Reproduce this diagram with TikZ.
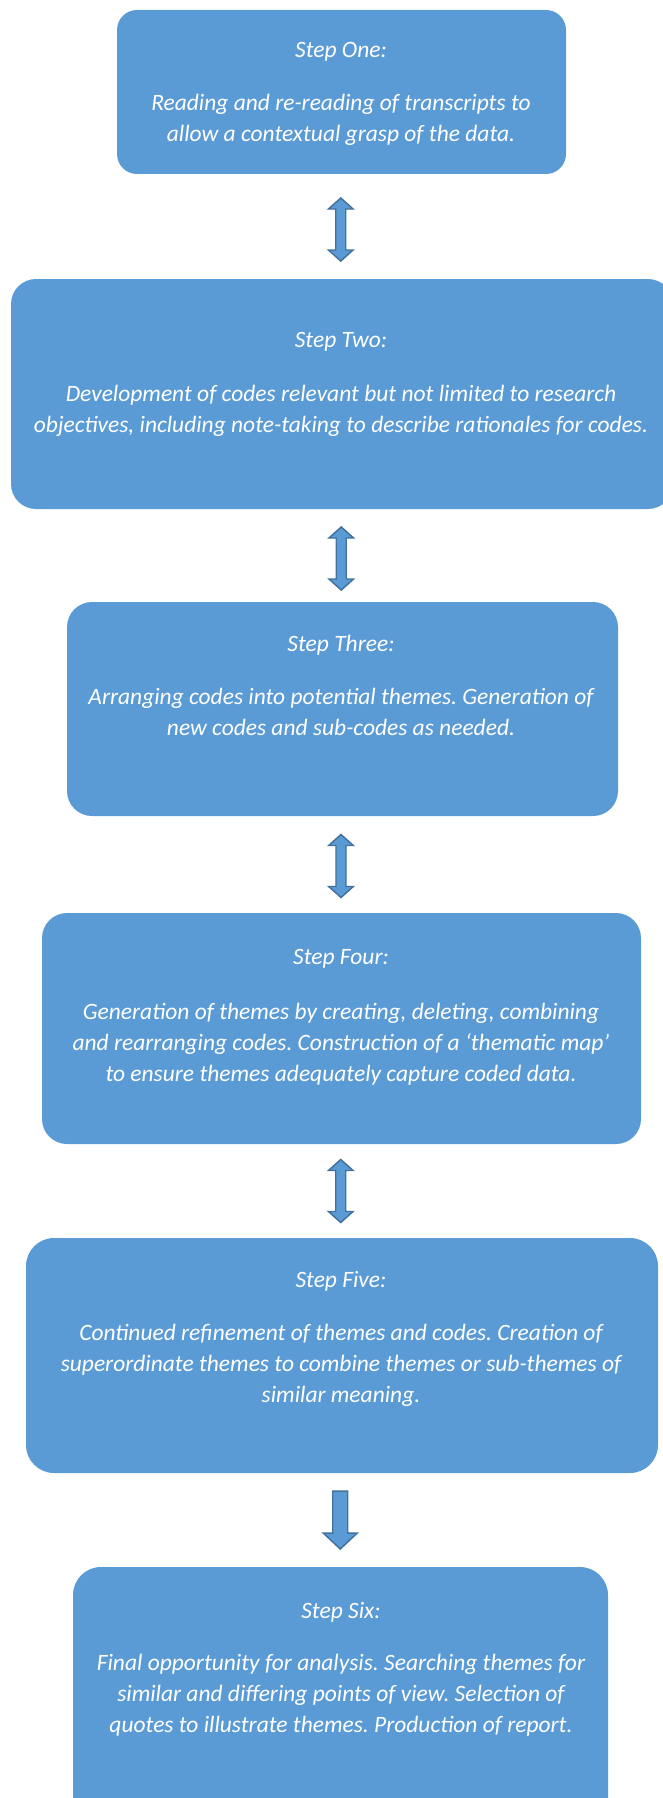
\documentclass[tikz,border=0pt]{standalone}
\usepackage{fontspec}
\setmainfont{Carlito}
\usetikzlibrary{fit,calc}
\definecolor{boxblue}{HTML}{5B9BD5}
\definecolor{edgeblue}{HTML}{41719C}
\tikzset{
  stepbox/.style={fill=boxblue, draw=none, rounded corners=25*0.75pt, inner sep=0pt},
  steptext/.style={text=white, align=center, inner sep=0pt, font=\fontsize{17.6}{23.25}\selectfont\itshape\frenchspacing},
  blockarrow/.style={fill=boxblue, draw=edgeblue, line width=1.1pt, line join=miter},
  pics/dblarrow/.style={code={
    \draw[blockarrow] (0,-31.5) -- (12.3,-20.5) -- (5,-20.5) -- (5,20.5) -- (12.3,20.5) -- (0,31.5)
      -- (-12.3,20.5) -- (-5,20.5) -- (-5,-20.5) -- (-12.3,-20.5) -- cycle;}},
  pics/downarrow/.style={code={
    \draw[blockarrow] (-7.5,-29) -- (7.5,-29) -- (7.5,13) -- (17,13) -- (0,29) -- (-17,13) -- (-7.5,13) -- cycle;}}
}
\begin{document}
\begin{tikzpicture}[x=0.75pt,y=-0.75pt]
\useasboundingbox (0,0) rectangle (663,1798);
\clip (0,0) rectangle (663,1798);
% boxes
\node[stepbox, rounded corners=20*0.75pt, fit={(117,10) (566,174)}] (b1) {};
\node[stepbox, fit={(11,279) (673,509)}] (b2) {};
\node[stepbox, fit={(67,602) (618,816)}] (b3) {};
\node[stepbox, fit={(42,913) (641,1144)}] (b4) {};
\node[stepbox, rounded corners=28*0.75pt, fit={(26,1238) (658,1473)}] (b5) {};
\node[stepbox, rounded corners=28*0.75pt, fit={(73,1567) (608,1840)}] (b6) {};
% texts
\node[steptext] (t1) at (341,52) {Step One:};
\node[steptext] (d1) at (341,120) {Reading and re-reading of transcripts to\\allow a contextual grasp of the data.};
\node[steptext] (t2) at (341,342) {Step Two:};
\node[steptext] (d2) at (341,411) {Development of codes relevant but not limited to research\\objectives, including note-taking to describe rationales for codes.};
\node[steptext] (t3) at (341,645) {Step Three:};
\node[steptext] (d3) at (341,712) {Arranging codes into potential themes. Generation of\\new codes and sub-codes as needed.};
\node[steptext] (t4) at (341,959) {Step Four:};
\node[steptext] (d4) at (341,1044) {Generation of themes by creating, deleting, combining\\and rearranging codes. Construction of a ‘thematic map’\\to ensure themes adequately capture coded data.};
\node[steptext] (t5) at (341,1281) {Step Five:};
\node[steptext] (d5) at (341,1365) {Continued refinement of themes and codes. Creation of\\superordinate themes to combine themes or sub-themes of\\similar meaning.};
\node[steptext] (t6) at (341,1612) {Step Six:};
\node[steptext] (d6) at (341,1695) {Final opportunity for analysis. Searching themes for\\similar and differing points of view. Selection of\\quotes to illustrate themes. Production of report.};
% connectors (block arrows between boxes)
\coordinate (a1) at ($(b1.south)!0.5!(b2.north)+(0,3)$);
\coordinate (a2) at ($(b2.south)!0.5!(b3.north)+(0,3)$);
\coordinate (a3) at ($(b3.south)!0.5!(b4.north)+(0,1.5)$);
\coordinate (a4) at ($(b4.south)!0.5!(b5.north)$);
\coordinate (a5) at ($(b5.south)!0.5!(b6.north)$);
\pic at ([xshift=-1*0.75pt]a1) {dblarrow};
\pic at ([xshift=-1*0.75pt]a2) {dblarrow};
\pic at ([xshift=-1*0.75pt]a3) {dblarrow};
\pic at ([xshift=-1*0.75pt]a4) {dblarrow};
\pic at ([xshift=-1*0.75pt]a5) {downarrow};
\end{tikzpicture}
\end{document}
